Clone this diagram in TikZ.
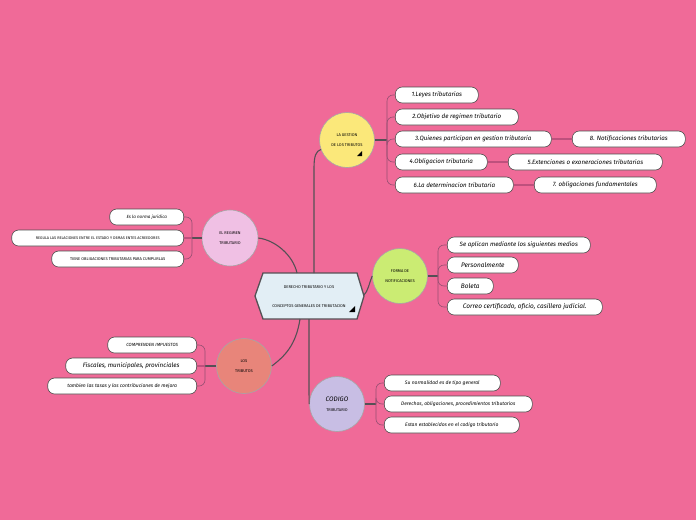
\documentclass[tikz,border=0pt]{standalone}
\usepackage{fontspec}
\setmainfont{Fira Sans}
\definecolor{bg}{RGB}{240,106,152}
\definecolor{hexfill}{RGB}{226,238,245}
\definecolor{cyellow}{RGB}{251,232,122}
\definecolor{cgreen}{RGB}{203,236,115}
\definecolor{cpurple}{RGB}{200,190,228}
\definecolor{cpink}{RGB}{240,192,228}
\definecolor{csalmon}{RGB}{232,133,122}
\definecolor{mainline}{RGB}{85,80,85}
\definecolor{brline}{RGB}{150,80,115}
\definecolor{linkline}{RGB}{190,80,125}
\tikzset{
  itembox/.style={draw=gray!60!black, line width=0.6pt, fill=white, rounded corners=7pt,
    minimum height=16pt, inner sep=0pt, font=\fontsize{6.2}{7}\selectfont\itshape},
  topic/.style={circle, draw=gray!70, line width=0.6pt, minimum size=55pt, inner sep=0pt,
    align=center, font=\fontsize{4}{10}\selectfont},
  mainconn/.style={draw=mainline, line width=1.1pt},
  brconn/.style={draw=brline, line width=0.6pt, rounded corners=6pt},
  linkconn/.style={draw=linkline, line width=1.6pt}
}
\begin{document}
\begin{tikzpicture}[x=1pt,y=-1pt]
\fill[bg] (0,0) rectangle (696,520);
\useasboundingbox (0,0) rectangle (696,520);

% central hexagon
\draw[draw=mainline, line width=1.3pt, fill=hexfill]
  (255,296) -- (263,273) -- (357,273) -- (364,296) -- (357,319) -- (263,319) -- cycle;
\node[align=center, font=\fontsize{4}{19}\selectfont] (C) at (309,297)
  {DERECHO TRIBUTARIO Y LOS\\CONCEPTOS GENERALES DE TRIBUTACION};
\coordinate (Ctop) at (314,273);
\coordinate (Ctl) at (297,273);
\coordinate (Cright) at (364,295);
\coordinate (Cbot) at (309,319);
\coordinate (Cbl) at (300,319);
\fill[black] (355,306) -- (355,312) -- (349,312) -- cycle;

% topic circles
\node[topic, fill=cyellow] (Y) at (347,140) {LA GESTION\\DE LOS TRIBUTOS};
\fill[black] (362,151) -- (362,156) -- (357,156) -- cycle;
\node[topic, fill=cgreen] (G) at (400,276) {FORMA DE\\NOTIFICACIONES};
\node[topic, fill=cpurple] (P) at (337,404) {{\fontsize{6.5}{9}\selectfont\itshape CODIGO}\\TRIBUTARIO};
\node[topic, fill=cpink, minimum size=56pt] (L) at (230,238) {EL REGIMEN\\TRIBUTARIO};
\node[topic, fill=csalmon] (S) at (244,366) {LOS\\TRIBUTOS};

% main connectors
\draw[mainconn] (Ctop) -- (314,168) .. controls (314,156) and (316,151) .. (Y.200);
\draw[mainconn] (Cright) .. controls (368,291) and (369,284) .. (G.west);
\draw[mainconn] (Cbot) -- (309,380) .. controls (309,392) and (309,396) .. (P.west);
\draw[mainconn] (Ctl) .. controls (293,255) and (275,240) .. (L.east);
\draw[mainconn] (Cbl) .. controls (296,345) and (285,356) .. (S.east);

% yellow branch items
\node[itembox, minimum width=83pt, anchor=west] (y1) at (395,95) {1.Leyes tributarias};
\node[itembox, minimum width=123pt, anchor=west] (y2) at (395,117) {2.Objetivo de regimen tributario};
\node[itembox, minimum width=156pt, anchor=west] (y3) at (395,139) {3.Quienes participan en gestion tributaria};
\node[itembox, minimum width=113pt, anchor=west] (y8) at (572,139) {8. Notificaciones tributarias};
\node[itembox, minimum width=92pt, anchor=west] (y4) at (395,162) {4.Obligacion tributaria};
\node[itembox, minimum width=154pt, anchor=west] (y5) at (508,162) {5.Extenciones o exoneraciones tributarias};
\node[itembox, minimum width=118pt, anchor=west] (y6) at (395,185) {6.La determinacion tributaria};
\node[itembox, minimum width=122pt, anchor=west] (y7) at (534,185) {7. obligaciones fundamentales};
\draw[mainconn] (Y.east) -- (387,140) coordinate (yb);
\foreach \n in {y1,y2,y3,y4,y6} \draw[brconn] (yb) |- (\n.west);
\draw[linkconn] (y3.east) -- (y8.west);
\draw[linkconn] (y4.east) -- (y5.west);
\draw[linkconn] (y6.east) -- (y7.west);

% green branch items
\node[itembox, minimum width=143pt, anchor=west] (g1) at (447,245) {Se aplican mediante los siguientes medios};
\node[itembox, minimum width=71pt, anchor=west, font=\fontsize{6.5}{8}\selectfont\itshape] (g2) at (447,265) {Personalmente};
\node[itembox, minimum width=46pt, anchor=west, font=\fontsize{6.5}{8}\selectfont\itshape] (g3) at (447,286) {Boleta};
\node[itembox, minimum width=155pt, anchor=west, font=\fontsize{6.5}{8}\selectfont\itshape] (g4) at (447,307) {Correo certificado, oficio, casillero judicial.};
\draw[mainconn] (G.east) -- (438,276) coordinate (gb);
\foreach \n in {g1,g2,g3,g4} \draw[brconn] (gb) |- (\n.west);

% purple branch items
\node[itembox, minimum width=116pt, anchor=west, font=\fontsize{5}{6}\selectfont\itshape] (p1) at (384,383) {Su normalidad es de tipo general};
\node[itembox, minimum width=148pt, anchor=west, font=\fontsize{5}{6}\selectfont\itshape] (p2) at (384,404) {Derechos, obligaciones, procedimientos tributarios};
\node[itembox, minimum width=135pt, anchor=west, font=\fontsize{5}{6}\selectfont\itshape] (p3) at (384,425) {Estan establecidos en el codigo tributario};
\draw[mainconn] (P.east) -- (376,404) coordinate (pb);
\foreach \n in {p1,p2,p3} \draw[brconn] (pb) |- (\n.west);

% pink (left) branch items
\node[itembox, minimum width=74pt, anchor=east, font=\fontsize{4.5}{6}\selectfont\itshape] (l1) at (184,217) {Es la norma juridica};
\node[itembox, minimum width=172pt, anchor=east, font=\fontsize{3.8}{5}\selectfont] (l2) at (184,238) {REGULA LAS RELACIONES ENTRE EL ESTADO Y DEMAS ENTES ACREEDORES};
\node[itembox, minimum width=132pt, anchor=east, font=\fontsize{4}{5}\selectfont] (l3) at (184,259) {TIENE OBLIGACIONES TRIBUTARIAS PARA CUMPLIRLAS};
\draw[mainconn] (L.west) -- (192,238) coordinate (lb);
\foreach \n in {l1,l3} \draw[brconn] (lb) |- (\n.east);
\draw[linkconn] (lb) -- (l2.east);

% salmon branch items
\node[itembox, minimum width=89pt, anchor=east, font=\fontsize{4.5}{6}\selectfont\itshape] (s1) at (197,345) {COMPRENDEN IMPUESTOS};
\node[itembox, minimum width=131pt, anchor=east, font=\fontsize{6.3}{8}\selectfont\itshape] (s2) at (197,366) {Fiscales, municipales, provinciales};
\node[itembox, minimum width=149pt, anchor=east, font=\fontsize{5}{6}\selectfont\itshape] (s3) at (197,386) {tambien las tasas y las contribuciones de mejora};
\draw[mainconn] (S.west) -- (205,366) coordinate (sb);
\foreach \n in {s1,s3} \draw[brconn] (sb) |- (\n.east);
\draw[linkconn] (sb) -- (s2.east);
\end{tikzpicture}
\end{document}
